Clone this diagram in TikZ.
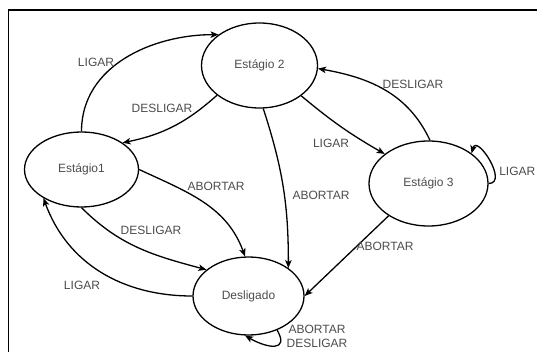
\documentclass[tikz,border=0pt]{standalone}
\usepackage{fontspec}
\setmainfont{Liberation Sans}
\usepackage{tikz}
\usetikzlibrary{arrows.meta, positioning, shapes.geometric}

\begin{document}
\begin{tikzpicture}[x=1pt, y=1pt,
    estado/.style={draw, line width=1.3pt, ellipse, inner sep=0pt, text=black!70, font=\fontsize{12}{14}\selectfont},
    rotulo/.style={text=black!70, font=\fontsize{12}{14}\selectfont, inner sep=1pt},
    trans/.style={line width=1.3pt, -{Stealth[length=8pt, width=6.5pt, inset=2pt]}}]
    \useasboundingbox (0,0) rectangle (537,351);

    % Moldura
    \draw[line width=2pt] (8,341) -- (540,341);
    \draw[line width=1pt] (8,341) -- (8,-5);

    % Estados
    \node[estado, minimum width=114pt, minimum height=75pt] (est1) at (81.5,181.5) {Estágio1};
    \node[estado, minimum width=116pt, minimum height=85pt] (est2) at (259.5,285.5) {Estágio 2};
    \node[estado, minimum width=119pt, minimum height=85pt] (est3) at (428.5,167.5) {Estágio 3};
    \node[estado, minimum width=111pt, minimum height=78pt] (desl) at (248.5,55) {Desligado};

    % Transicoes
    \draw[trans] (est1.north) to[out=90, in=180] (est2.143);
    \draw[trans] (est2.215) to[bend left=15] (est1.33);
    \draw[trans] (est2.324) to[bend right=5] (est3.146);
    \draw[trans] (est3.88) to[out=115, in=-10] (est2.-3);
    \draw[trans] (est3.east) to[out=0, in=75, looseness=1.5] (est3.35);
    \draw[trans] (est1.east) to[out=-25, in=110] (desl.95);
    \draw[trans] (est1.south) to[out=-45, in=165] (desl.148);
    \draw[trans] (desl.west) to[out=180, in=-70] (est1.217);
    \draw[trans] (est2.-85) to[out=-72, in=90] (desl.35);
    \draw[trans] (est3.219) -- (desl.east);
    \draw[trans] (desl.-50) to[out=-60, in=-30, looseness=2] (desl.-95);

    % Rotulos
    \node[rotulo] (l12) at (96,289) {LIGAR};
    \node[rotulo] (l21) at (162,243) {DESLIGAR};
    \node[rotulo] (l23) at (331,208) {LIGAR};
    \node[rotulo] (l32) at (413,267) {DESLIGAR};
    \node[rotulo, anchor=east] (l33) at (536.5,180) {LIGAR};
    \node[rotulo] (l1d) at (216,165) {ABORTAR};
    \node[rotulo] (l1dd) at (151,121) {DESLIGAR};
    \node[rotulo] (ld1) at (82,66) {LIGAR};
    \node[rotulo] (l2d) at (321,156) {ABORTAR};
    \node[rotulo] (l3d) at (385,105) {ABORTAR};
    \node[rotulo, align=center] (ldd) at (317,14.5) {ABORTAR\\DESLIGAR};
\end{tikzpicture}
\end{document}
